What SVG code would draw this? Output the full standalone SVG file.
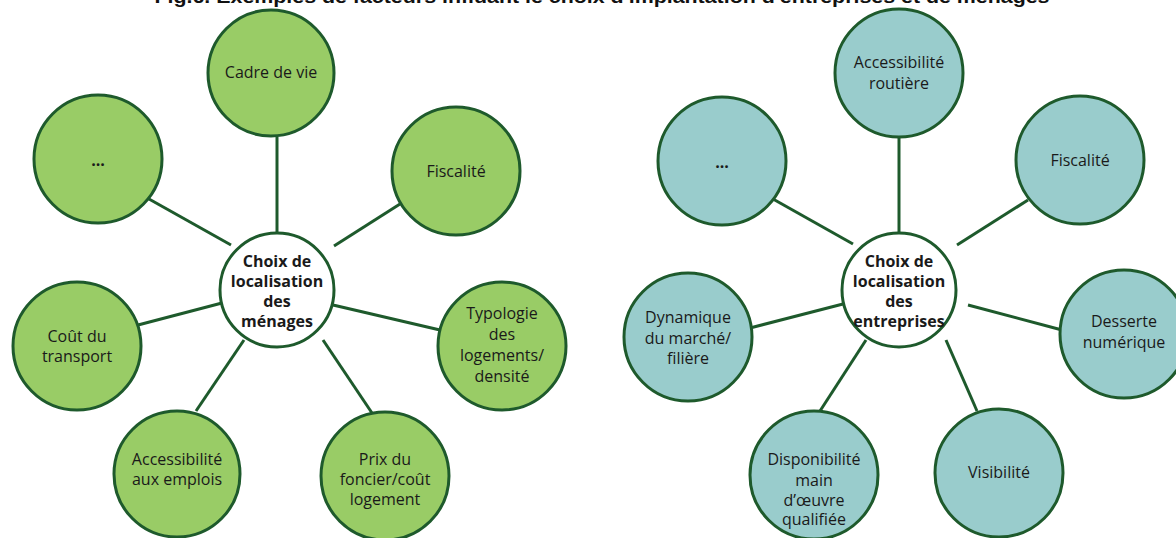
<svg xmlns="http://www.w3.org/2000/svg" width="1176" height="538" viewBox="0 0 1176 538">
<style>
.t{font-family:"Open Sans","Noto Sans",sans-serif;font-size:16px;fill:#1a1a1a;text-anchor:middle}
.b{font-weight:bold}
.g{fill:#99cc66;stroke:#1e5a2c;stroke-width:3}
.c{fill:#99cccc;stroke:#1e5a2c;stroke-width:3}
.w{fill:#ffffff;stroke:#1e5a2c;stroke-width:3}
.ln{stroke:#1e5a2c;stroke-width:3;fill:none}
.title{font-family:"Liberation Sans",Arial,sans-serif;font-weight:bold;font-size:19px;fill:#111;text-anchor:middle}
</style>
<rect width="1176" height="538" fill="#ffffff"/>
<text class="title" x="602" y="3" textLength="895" lengthAdjust="spacingAndGlyphs">Fig.6. Exemples de facteurs influant le choix d'implantation d'entreprises et de ménages</text>
<g id="connectors">
<line class="ln" x1="277" y1="137" x2="277" y2="232"/>
<line class="ln" x1="334" y1="246" x2="400" y2="204"/>
<line class="ln" x1="149" y1="199" x2="231" y2="245"/>
<line class="ln" x1="138" y1="325" x2="222" y2="303"/>
<line class="ln" x1="333" y1="305" x2="440" y2="330"/>
<line class="ln" x1="196" y1="411" x2="244" y2="340"/>
<line class="ln" x1="323" y1="340" x2="372" y2="413"/>
<line class="ln" x1="899" y1="137" x2="899" y2="233"/>
<line class="ln" x1="957" y1="245" x2="1028" y2="200"/>
<line class="ln" x1="773" y1="199" x2="853" y2="244"/>
<line class="ln" x1="750" y1="328" x2="843" y2="304"/>
<line class="ln" x1="968" y1="305" x2="1062" y2="330"/>
<line class="ln" x1="820" y1="411" x2="866" y2="340"/>
<line class="ln" x1="946" y1="340" x2="977" y2="411"/>
</g>
<g id="m-center"><circle class="w" cx="277" cy="290" r="57"/>
<text class="t b" x="277" y="267">Choix de</text><text class="t b" x="277" y="287">localisation</text><text class="t b" x="277" y="307">des</text><text class="t b" x="277" y="327">ménages</text></g>
<g id="m-cadre"><circle class="g" cx="271" cy="73" r="63"/><text class="t" x="271" y="78">Cadre de vie</text></g>
<g id="m-fisc"><circle class="g" cx="456" cy="171" r="64"/><text class="t" x="456" y="177">Fiscalité</text></g>
<g id="m-etc"><circle class="g" cx="98" cy="159" r="64"/><text class="t b" x="98" y="166">...</text></g>
<g id="m-typo"><circle class="g" cx="502" cy="346" r="64"/>
<text class="t" x="502" y="319">Typologie</text><text class="t" x="502" y="340">des</text><text class="t" x="502" y="361">logements/</text><text class="t" x="502" y="382">densité</text></g>
<g id="m-cout"><circle class="g" cx="77" cy="346" r="64"/>
<text class="t" x="77" y="342">Coût du</text><text class="t" x="77" y="362">transport</text></g>
<g id="m-acc"><circle class="g" cx="177" cy="474" r="63"/>
<text class="t" x="177" y="465">Accessibilité</text><text class="t" x="177" y="485">aux emplois</text></g>
<g id="m-prix"><circle class="g" cx="385" cy="476" r="64"/>
<text class="t" x="385" y="465">Prix du</text><text class="t" x="385" y="485">foncier/coût</text><text class="t" x="385" y="505">logement</text></g>
<g id="e-center"><circle class="w" cx="899" cy="290" r="57"/>
<text class="t b" x="899" y="267">Choix de</text><text class="t b" x="899" y="287">localisation</text><text class="t b" x="899" y="307">des</text><text class="t b" x="899" y="327">entreprises</text></g>
<g id="e-route"><circle class="c" cx="899" cy="73" r="64"/>
<text class="t" x="899" y="68">Accessibilité</text><text class="t" x="899" y="89">routière</text></g>
<g id="e-fisc"><circle class="c" cx="1080" cy="160" r="64"/><text class="t" x="1080" y="166">Fiscalité</text></g>
<g id="e-etc"><circle class="c" cx="722" cy="161" r="64"/><text class="t b" x="722" y="168">...</text></g>
<g id="e-dess"><circle class="c" cx="1124" cy="334" r="64"/>
<text class="t" x="1124" y="327">Desserte</text><text class="t" x="1124" y="348">numérique</text></g>
<g id="e-dyn"><circle class="c" cx="688" cy="337" r="64"/>
<text class="t" x="688" y="323">Dynamique</text><text class="t" x="688" y="344">du marché/</text><text class="t" x="688" y="364">filière</text></g>
<g id="e-dispo"><circle class="c" cx="814" cy="475" r="64"/>
<text class="t" x="814" y="465">Disponibilité</text><text class="t" x="814" y="486">main</text><text class="t" x="814" y="506">d’œuvre</text><text class="t" x="814" y="525">qualifiée</text></g>
<g id="e-vis"><circle class="c" cx="999" cy="473" r="64"/><text class="t" x="999" y="478">Visibilité</text></g>
</svg>
